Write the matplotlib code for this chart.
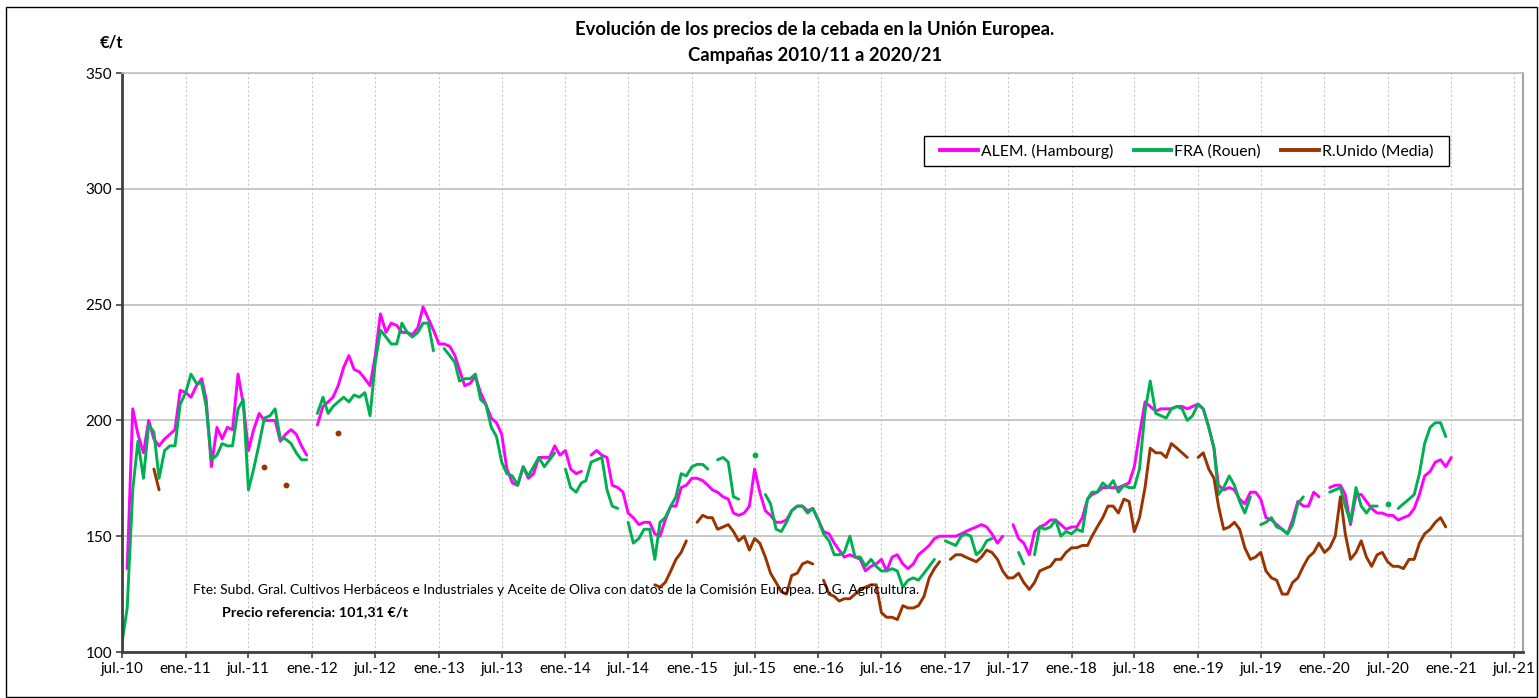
import matplotlib
matplotlib.use("Agg")
import matplotlib.pyplot as plt
from matplotlib.lines import Line2D
from matplotlib.patches import Rectangle
import numpy as np
import pandas as pd

# semi-monthly readings (1st and 16th of each month), jul-2010 .. ene-2021
# one row per campaign (jul..jun), None = no quotation
alem = [
    None, 136, 205, 194, 186, 200, 192, 189, 192, 194, 196, 213, 212, 210, 215, 218, 209, 180, 197, 192, 197, 196, 220, 207,
    187, 196, 203, 200, 200, 200, 191, 194, 196, 194, 189, 185, None, 198, 206, 208, 210, 215, 223, 228, 222, 221, 218, 215,
    228, 246, 238, 242, 241, 238, 238, 237, 240, 249, 244, 239, 233, 233, 232, 228, 222, 215, 216, 219, 212, 207, 201, 199,
    194, 179, 173, 172, 180, 175, 177, 184, 184, 184, 189, 185, 187, 179, 177, 178, None, 185, 187, 185, 184, 172, 171, 169,
    160, 158, 155, 156, 156, 151, 150, 157, 163, 163, 171, 172, 175, 175, 174, 172, 170, 169, 167, 166, 160, 159, 160, 163,
    179, 169, 161, 159, 156, 156, 157, 161, 163, 163, 161, 162, 157, 152, 151, 147, 144, 141, 142, 141, 140, 135, 137, 138,
    140, 135, 141, 142, 138, 136, 138, 142, 144, 146, 149, 150, 150, 150, 150, 151, 152, 153, 154, 155, 154, 151, 147, 150,
    None, 155, 149, 147, 142, 152, 154, 155, 157, 157, 155, 153, 154, 154, 158, 166, 168, 169, 171, 171, 171, 171, 172, 173,
    180, 194, 208, 206, 204, 205, 205, 205, 206, 206, 205, 206, 207, 205, 197, 188, 172, 170, 171, 170, 166, 164, 169, 169,
    166, 158, 157, 155, 153, 151, 157, 165, 163, 163, 169, 167, None, 171, 172, 172, 168, 155, 168, 168, 165, 162, 160, 160,
    159, 159, 157, 158, 159, 162, 168, 176, 178, 182, 183, 180, 184,
]

fra = [
    104, 119, 170, 191, 175, 198, 195, 175, 187, 189, 189, 207, 212, 220, 216, 216, 206, 183, 185, 190, 189, 189, 205, 209,
    170, 179, 190, 201, 202, 205, 192, 192, 190, 186, 183, 183, None, 203, 210, 203, 206, 208, 210, 208, 211, 210, 212, 202,
    225, 239, 236, 233, 233, 242, 238, 236, 238, 242, 242, 230, None, 231, 228, 225, 217, 218, 218, 220, 209, 207, 197, 193,
    182, 177, 176, 172, 180, 176, 180, 184, 180, 183, 186, None, 179, 171, 169, 173, 174, 182, 183, 184, 170, 163, 162, None,
    156, 147, 149, 153, 153, 140, 156, 158, 163, 167, 177, 176, 180, 181, 181, 179, None, 183, 184, 182, 167, 166, None, None,
    185, None, 168, 164, 153, 152, 156, 161, 163, 163, 160, 162, 157, 151, 148, 142, 142, 143, 150, 141, 141, 137, 140, 137,
    135, 135, 136, 135, 128, 131, 132, 131, 134, 137, 140, None, 148, 147, 146, 150, 151, 150, 142, 144, 148, 149, None, None,
    None, None, 143, 138, None, 142, 154, 153, 154, 157, 150, 152, 151, 153, 152, 166, 169, 169, 173, 171, 174, 169, 172, 171,
    171, 179, 204, 217, 203, 202, 201, 205, 206, 205, 200, 202, 207, 205, 197, 188, 168, 171, 176, 172, 165, 160, 167, None,
    155, 156, 158, 154, 153, 151, 155, 164, 167, None, None, None, None, 169, 170, 171, 163, 156, 171, 163, 160, 163, 163, None,
    164, None, 162, 164, 166, 168, 177, 190, 197, 199, 199, 193, None,
]

runido = [
    None, None, None, None, None, None, 179, 170, None, None, None, None, None, None, None, None, None, None, None, None, None, None, None, None,
    None, None, None, 180, None, None, None, 172, None, None, None, None, None, None, None, None, None, 194.5, None, None, None, None, None, None,
    ] + [None] * 48 + [
    None, None, None, None, None, 129, 128, 130, 135, 140, 143, 148, None, 156, 159, 158, 158, 153, 154, 155, 152, 148, 150, 144,
    149, 147, 141, 134, 130, 126, 125, 133, 134, 138, 139, 138, None, 131, 125, 124, 122, 123, 123, 125, 127, 128, 129, 129,
    117, 115, 115, 114, 120, 119, 119, 120, 124, 132, 136, 139, None, 140, 142, 142, 141, 140, 139, 141, 144, 143, 140, 135,
    132, 132, 134, 130, 127, 130, 135, 136, 137, 140, 140, 143, 145, 145, 146, 146, 150, 154, 158, 163, 163, 160, 166, 165,
    152, 158, 171, 188, 186, 186, 184, 190, 188, 186, 184, None, 184, 186, 179, 175, 163, 153, 154, 156, 153, 145, 140, 141,
    143, 135, 132, 131, 125, 125, 130, 132, 137, 141, 143, 147, 143, 145, 150, 167, 151, 140, 143, 148, 141, 137, 142, 143,
    139, 137, 137, 136, 140, 140, 147, 151, 153, 156, 158, 154, None,
]

series_names = ["ALEM. (Hambourg)", "FRA (Rouen)", "R.Unido (Media)"]
series_colors = ["#FF00FF", "#00B050", "#993300"]

months = pd.date_range("2010-07-01", "2021-01-01", freq="MS")
dates = []
for m in months:
    dates += [m, m + pd.Timedelta(days=15)]
dates = pd.DatetimeIndex(dates[:len(alem)])

tick_dates = pd.date_range("2010-07-01", "2021-07-01", freq="6MS")
tick_labels = [("jul.-" if d.month == 7 else "ene.-") + d.strftime("%y") for d in tick_dates]

W, H = 1539, 698
plt.rcParams["font.family"] = ["Lato", "DejaVu Sans"]

fig = plt.figure(figsize=(W / 100, H / 100), dpi=100)
ax = fig.add_axes([122 / W, 1 - 652 / H, (1523 - 122) / W, (652 - 73) / H])

for vals, col in zip([alem, fra, runido], series_colors):
    y = np.array(vals, dtype=float)
    ax.plot(dates, y, color=col, lw=2.1, solid_joinstyle="round", solid_capstyle="round")
    # single quotations between gaps only show as a short mark
    ok = ~np.isnan(y)
    prev_ok = np.r_[False, ok[:-1]]
    next_ok = np.r_[ok[1:], False]
    lone = ok & ~prev_ok & ~next_ok
    ax.plot(dates[lone], y[lone], ls="none", marker="o", markersize=3.2, color=col)

ax.set_ylim(100, 350)
ax.set_yticks(range(100, 351, 50))
ax.set_xlim(pd.Timestamp("2010-07-01"), pd.Timestamp("2021-07-27"))
ax.set_xticks(tick_dates)
ax.set_xticklabels(tick_labels)

ax.yaxis.grid(True, color="#bfbfbf", lw=1.2)
ax.xaxis.grid(True, color="#c8c8c8", lw=0.8, ls=(0, (2, 2)))
ax.set_axisbelow(True)

for s in ["left", "bottom"]:
    ax.spines[s].set_color("#404040")
    ax.spines[s].set_linewidth(2)
ax.spines["top"].set_color("#bfbfbf")
ax.spines["top"].set_linewidth(1.2)
ax.spines["right"].set_color("#a6a6a6")
ax.spines["right"].set_linewidth(1.5)
ax.tick_params(direction="out", length=4, width=1.2, color="#404040", labelsize=11, pad=3)

# legend box drawn by hand so its padding matches the original
fig.add_artist(Rectangle((924 / W, 1 - 166 / H), (1449 - 924) / W, 30 / H,
                         transform=fig.transFigure, fill=True, facecolor="white",
                         edgecolor="black", lw=1, zorder=5))
handles = [Line2D([], [], color=c, lw=2.8) for c in series_colors]
leg = fig.legend(handles, series_names, loc="center left",
                 bbox_to_anchor=(940 / W, 1 - 151 / H), bbox_transform=fig.transFigure,
                 ncol=3, frameon=False, fontsize=11.3, handlelength=2.4,
                 handletextpad=0.2, columnspacing=1.3, borderpad=0, borderaxespad=0)
leg.set_zorder(6)

fig.text(815 / W, 1 - 30 / H, "Evolución de los precios de la cebada en la Unión Europea.",
         ha="center", va="center", fontsize=13.3, fontweight="bold")
fig.text(815 / W, 1 - 55 / H, "Campañas 2010/11 a 2020/21",
         ha="center", va="center", fontsize=13.3, fontweight="bold")
fig.text(112 / W, 1 - 42 / H, "€/t", ha="center", va="center", fontsize=12, fontweight="bold")
fig.text(193 / W, 1 - 590 / H,
         "Fte: Subd. Gral. Cultivos Herbáceos e Industriales y Aceite de Oliva con datos de la Comisión Europea. D.G. Agricultura.",
         ha="left", va="center", fontsize=10)
fig.text(222 / W, 1 - 612 / H, "Precio referencia: 101,31 €/t",
         ha="left", va="center", fontsize=10.4, fontweight="bold")

fig.add_artist(Rectangle((6 / W, 1 / H), (1537 - 6) / W, (697 - 7) / H,
                         transform=fig.transFigure, fill=False, edgecolor="black", lw=1))

fig.savefig("out.png", dpi=100)
